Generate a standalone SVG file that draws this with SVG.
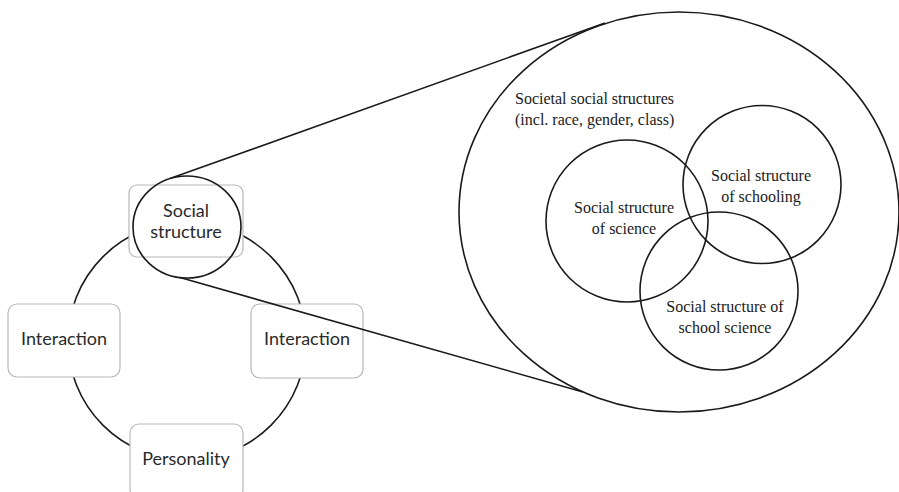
<svg xmlns="http://www.w3.org/2000/svg" width="899" height="492" viewBox="0 0 899 492">
<style>
.bg{fill:#ffffff}
.ring{fill:none;stroke:#1a1a1a;stroke-width:1.6}
.box{fill:#ffffff;stroke:#b8b8b8;stroke-width:1.2}
.sans{font-family:Lato,"Open Sans","Liberation Sans",sans-serif;font-size:18px;fill:#2a2a2a;text-anchor:middle}
.serif{font-family:"Liberation Serif","Times New Roman",serif;font-size:16px;fill:#1a1a1a}
.mid{text-anchor:middle}
</style>
<rect class="bg" x="0" y="0" width="899" height="492"/>
<g id="cycle">
<circle class="ring" cx="187" cy="341" r="119"/>
</g>
<g id="node-interaction-left">
<rect class="box" x="8" y="304" width="112" height="73" rx="9"/>
<text class="sans" x="64" y="345">Interaction</text>
</g>
<g id="node-interaction-right">
<rect class="box" x="251" y="304" width="112" height="74" rx="9"/>
<text class="sans" x="307" y="345">Interaction</text>
</g>
<g id="node-personality">
<rect class="box" x="130" y="424" width="113" height="74" rx="9"/>
<text class="sans" x="186" y="465">Personality</text>
</g>
<g id="node-social-structure">
<rect class="box" x="129" y="185" width="114" height="72" rx="8"/>
<text class="sans" x="186" y="217">Social</text>
<text class="sans" x="186" y="238">structure</text>
<ellipse class="ring" cx="187" cy="227" rx="54" ry="51"/>
</g>
<g id="connectors">
<line class="ring" x1="170" y1="178.6" x2="605" y2="23"/>
<line class="ring" x1="180" y1="277.6" x2="583" y2="392"/>
</g>
<g id="node-societal">
<ellipse class="ring" cx="679" cy="212" rx="220" ry="200"/>
<text class="serif" x="515" y="104">Societal social structures</text>
<text class="serif" x="515" y="125">(incl. race, gender, class)</text>
</g>
<g id="node-science">
<circle class="ring" cx="627" cy="221" r="81"/>
<text class="serif mid" x="624" y="213">Social structure</text>
<text class="serif mid" x="624" y="234">of science</text>
</g>
<g id="node-schooling">
<circle class="ring" cx="762" cy="184.5" r="79"/>
<text class="serif mid" x="761" y="181">Social structure</text>
<text class="serif mid" x="761" y="202">of schooling</text>
</g>
<g id="node-school-science">
<circle class="ring" cx="719" cy="291" r="79"/>
<text class="serif mid" x="725" y="312">Social structure of</text>
<text class="serif mid" x="725" y="333">school science</text>
</g>
</svg>
